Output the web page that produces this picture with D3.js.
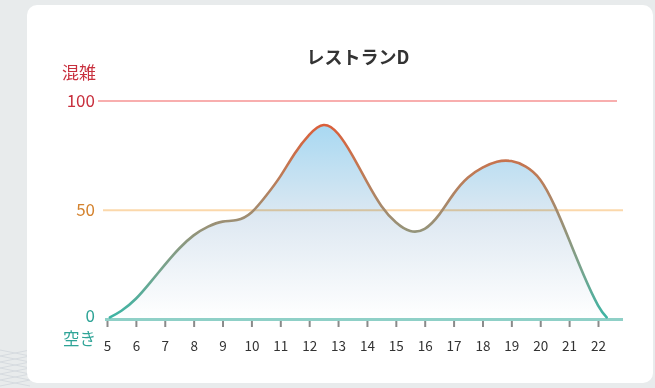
<!DOCTYPE html>
<html><head><meta charset="utf-8">
<script src="https://cdn.jsdelivr.net/npm/d3@7"></script>
<style>
html,body{margin:0;padding:0;background:#e8ebec;}
svg{display:block;font-family:"Noto Sans CJK JP","Noto Sans",sans-serif;}
</style></head>
<body><svg id="c" width="655" height="388"></svg>
<script>
const title = "レストランD";
const hours = [5.1,5.5,6,6.5,7,7.5,8,8.5,9,9.5,10,10.5,11,11.5,12,12.5,13,13.5,14,14.5,15,15.5,16,16.5,17,17.5,18,18.5,19,19.5,20,20.5,21,21.5,22,22.3];
const values = [1,4,9.5,17,25,32.5,38.5,42.5,44.8,45.5,49,56.5,65.5,76,84.5,89,85,75,63,52,44.5,40.5,41.5,48,57.5,65,69.5,72.2,72.5,70,64,52,36.5,20.5,6.5,1];
const tickHours = [5,6,7,8,9,10,11,12,13,14,15,16,17,18,19,20,21,22];
const yLevels = [100,50,0];
const yLevelColors = ["#c8303e","#d4832f","#2fa497"];
const gridColors = ["#f8aeae","#fbd8ab","#8fd0c7"];
const topLabel = "混雑", bottomLabel = "空き";

const data = hours.map((h,i)=>({h, v: values[i]}));
const svg = d3.select("#c");
const defs = svg.append("defs");

// background faint pattern bottom-left
const pg = svg.append("g").attr("stroke","#d6dbe0").attr("stroke-width",1).attr("fill","none");
for(let i=0;i<6;i++){
  pg.append("path").attr("d",`M0,${356+i*6} L30,${350+i*6}`);
  pg.append("path").attr("d",`M0,${350+i*6} L30,${356+i*6}`);
}

// card
svg.append("rect").attr("x",27).attr("y",5).attr("width",626).attr("height",378).attr("rx",10).attr("fill","#ffffff");

const x = d3.scaleLinear().domain([5,22]).range([107,598]);
const y = d3.scaleLinear().domain([0,100]).range([319.5,101]);

// gradients
const ag = defs.append("linearGradient").attr("id","areaGrad").attr("gradientUnits","userSpaceOnUse")
  .attr("x1",0).attr("x2",0).attr("y1",y(90)).attr("y2",y(0));
ag.append("stop").attr("offset","0%").attr("stop-color","#a7d8f2");
ag.append("stop").attr("offset","50%").attr("stop-color","#dfe9f2");
ag.append("stop").attr("offset","100%").attr("stop-color","#ffffff");

const lg = defs.append("linearGradient").attr("id","lineGrad").attr("gradientUnits","userSpaceOnUse")
  .attr("x1",0).attr("x2",0).attr("y1",y(90)).attr("y2",y(0));
lg.append("stop").attr("offset","0%").attr("stop-color","#db5e3a");
lg.append("stop").attr("offset","25%").attr("stop-color","#c07a55");
lg.append("stop").attr("offset","50%").attr("stop-color","#9c8f74");
lg.append("stop").attr("offset","75%").attr("stop-color","#76a48e");
lg.append("stop").attr("offset","100%").attr("stop-color","#3bb5a5");

const curve = d3.curveNatural;
// area
const area = d3.area().x(d=>x(d.h)).y0(y(0)).y1(d=>y(d.v)).curve(curve);
svg.append("path").datum(data).attr("d",area).attr("fill","url(#areaGrad)");

// grid lines
const gx = [[98,617],[103,623],[105,623]];
yLevels.forEach((lv,i)=>{
  svg.append("line").attr("x1",gx[i][0]).attr("x2",gx[i][1]).attr("y1",y(lv)).attr("y2",y(lv))
    .attr("stroke",gridColors[i]).attr("stroke-width", lv===0?3:2.2)
    .style("mix-blend-mode", lv===0?"normal":"multiply");
});

// line
const line = d3.line().x(d=>x(d.h)).y(d=>y(d.v)).curve(curve);
svg.append("path").datum(data).attr("d",line).attr("fill","none")
  .attr("stroke","url(#lineGrad)").attr("stroke-width",2.6).attr("stroke-linecap","round");

// x axis ticks
const xa = d3.axisBottom(x).tickValues(tickHours).tickSize(6).tickPadding(14).tickFormat(d3.format("d"));
const ag2 = svg.append("g").attr("transform",`translate(0,${y(0)+1.5})`).call(xa);
ag2.select(".domain").remove();
ag2.selectAll(".tick line").attr("stroke","#8a8a8a").attr("stroke-width",2);
ag2.selectAll(".tick text").attr("fill","#333").attr("font-size",13.5)
  .attr("font-family","\"Noto Sans CJK JP\",\"Noto Sans\",sans-serif");

// y labels
const ly = {100: y(100), 50: y(50), 0: y(0)-3};
yLevels.forEach((lv,i)=>{
  svg.append("text").attr("x",95).attr("y",ly[lv]).attr("dy","0.35em").attr("text-anchor","end")
    .attr("fill",yLevelColors[i]).attr("font-size",17).text(lv);
});
svg.append("text").attr("x",96).attr("y",73.5).attr("dy","0.35em").attr("text-anchor","end")
  .attr("fill",yLevelColors[0]).attr("font-size",17).text(topLabel);
svg.append("text").attr("x",96).attr("y",339).attr("dy","0.35em").attr("text-anchor","end")
  .attr("fill",yLevelColors[2]).attr("font-size",16.5).text(bottomLabel);

// title
svg.append("text").attr("x",358).attr("y",58).attr("dy","0.35em").attr("text-anchor","middle")
  .attr("fill","#333").attr("font-size",18).attr("font-weight","bold").text(title);
</script></body></html>
